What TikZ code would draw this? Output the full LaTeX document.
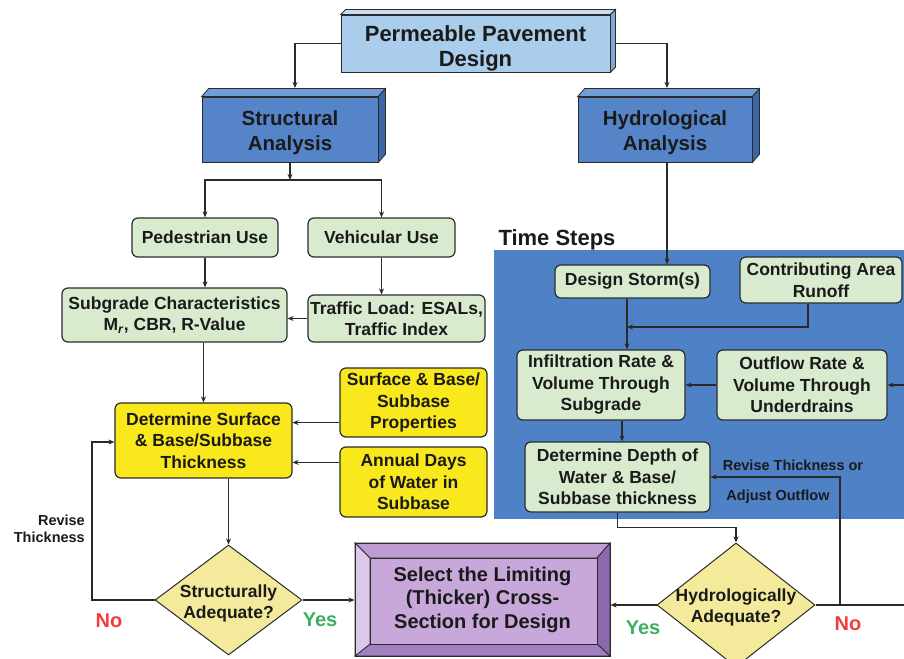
\documentclass[tikz,border=0pt]{standalone}
\usepackage{fontspec}
\setmainfont{Liberation Sans}
\usetikzlibrary{shapes.geometric,arrows.meta,calc}
\definecolor{edge}{HTML}{2B2B2B}
\definecolor{txt}{HTML}{1A1A1A}
\definecolor{lc}{HTML}{2A2A2A}
\definecolor{tfill}{HTML}{A9CDEB}
\definecolor{ttop}{HTML}{C6DEF3}
\definecolor{tside}{HTML}{7FA9D2}
\definecolor{bfill}{HTML}{5585C8}
\definecolor{btop}{HTML}{729CD6}
\definecolor{bside}{HTML}{3B66A8}
\definecolor{panel}{HTML}{4F81C6}
\definecolor{gfill}{HTML}{D8EBCF}
\definecolor{yfill}{HTML}{F9E81C}
\definecolor{dfill}{HTML}{F3EA9C}
\definecolor{pin}{HTML}{C8A7DA}
\definecolor{ptop}{HTML}{BE9CD3}
\definecolor{pright}{HTML}{8C68AE}
\definecolor{pbot}{HTML}{A27FC0}
\definecolor{pleft}{HTML}{DCC9E9}
\definecolor{nored}{HTML}{F03C3C}
\definecolor{yesgreen}{HTML}{3CB060}
\begin{document}
\begin{tikzpicture}[x=1pt,y=-1pt,
  box/.style={draw=edge, line width=1.2pt, rounded corners=6pt, align=center, inner sep=0pt, text=txt, font=\bfseries\fontsize{17.5}{21.5}\selectfont},
  gbox/.style={box, fill=gfill},
  ybox/.style={box, fill=yfill},
  bbox/.style={draw=edge, line width=0.8pt, fill=bfill, align=center, inner sep=0pt, text=txt, font=\bfseries\fontsize{20.5}{25}\selectfont},
  btext/.style={align=center, inner sep=0pt, text=txt, font=\bfseries\fontsize{20.5}{25}\selectfont},
  dia/.style={diamond, draw=edge, line width=1pt, fill=dfill, inner sep=0pt},
  diatext/.style={align=center, inner sep=0pt, text=txt, font=\bfseries\fontsize{17.5}{21}\selectfont},
  arr/.style={draw=lc, line width=1.4pt, -{Stealth[length=6pt,width=5pt]}},
  ln/.style={draw=lc, line width=1.4pt},
  lbl/.style={font=\bfseries\fontsize{14.5}{17}\selectfont, text=txt, inner sep=0pt},
  yeslbl/.style={font=\bfseries\fontsize{20}{24}\selectfont, text=yesgreen, inner sep=0pt},
  nolbl/.style={font=\bfseries\fontsize{20}{24}\selectfont, text=nored, inner sep=0pt},
  face/.style={draw=edge, line width=0.8pt}
]
\useasboundingbox (0,0) rectangle (904,658);
\fill[white] (0,0) rectangle (904,658);

% panel
\fill[panel] (494,250) rectangle (904,519);
\node[font=\bfseries\fontsize{22}{26}\selectfont, text=txt] (ts) at (557,240) {Time Steps};

% top title (3D)
\node[bbox, fill=tfill, minimum width=269pt, minimum height=57pt] (title) at (475.5,43.5) {};
\draw[face, fill=ttop] (title.north west) -- ++(5,-5) -- ($(title.north east)+(5,-5)$) -- (title.north east) -- cycle;
\draw[face, fill=tside] (title.north east) -- ++(5,-5) -- ($(title.south east)+(5,-5)$) -- (title.south east) -- cycle;
\node[btext, font=\bfseries\fontsize{22}{25}\selectfont] (titlet) at ($(title.center)+(0,5)$) {Permeable Pavement\\Design};

% analysis boxes (3D)
\node[bbox, minimum width=176pt, minimum height=65pt] (sa) at (290,129.5) {};
\draw[face, fill=btop] (sa.north west) -- ++(7,-8) -- ($(sa.north east)+(7,-8)$) -- (sa.north east) -- cycle;
\draw[face, fill=bside] (sa.north east) -- ++(7,-8) -- ($(sa.south east)+(7,-8)$) -- (sa.south east) -- cycle;
\node[btext] (sat) at ($(sa.center)+(0,3)$) {Structural\\Analysis};
\node[bbox, minimum width=174pt, minimum height=65pt] (ha) at (665,129.5) {};
\draw[face, fill=btop] (ha.north west) -- ++(7,-8) -- ($(ha.north east)+(7,-8)$) -- (ha.north east) -- cycle;
\draw[face, fill=bside] (ha.north east) -- ++(7,-8) -- ($(ha.south east)+(7,-8)$) -- (ha.south east) -- cycle;
\node[btext] (hat) at ($(ha.center)+(0,3)$) {Hydrological\\Analysis};

\coordinate (satop) at (295,88);
\coordinate (hatop) at (667,88);
\draw[arr] (title.west) -| (satop);
\draw[arr] ($(title.east)+(5,0)$) -| (hatop);

% structural side
\node[gbox, minimum width=146pt, minimum height=39pt] (ped) at (205,237.5) {Pedestrian Use};
\node[gbox, minimum width=147pt, minimum height=39pt] (veh) at (381.5,237.5) {Vehicular Use};
\node[gbox, minimum width=225pt, minimum height=54pt] (sub) at (174.5,315) {Subgrade Characteristics\\M\textsubscript{\textit{r}}, CBR, R-Value};
\node[gbox, minimum width=177pt, minimum height=47pt] (tr) at (396.5,318.5) {Traffic Load: ESALs,\\Traffic Index};
\node[ybox, minimum width=177pt, minimum height=75pt] (ds) at (203.5,440.5) {Determine Surface\\\& Base/Subbase\\Thickness};
\node[ybox, minimum width=147pt, minimum height=69pt] (sp) at (413.5,402.5) {Surface \& Base/\\Subbase\\Properties};
\node[ybox, minimum width=147pt, minimum height=70pt] (ad) at (413.5,482) {Annual Days\\of Water in\\Subbase};
\node[dia, minimum width=147pt, minimum height=110pt] (sd) at (228.5,600) {};
\node[diatext] (sdt) at ($(sd.center)+(0,3)$) {Structurally\\Adequate?};

\coordinate (j1) at (290,180);
\draw[arr] (sa.south) -- (j1);
\draw[arr] (j1) -| (ped.north);
\draw[arr] (j1) -| (veh.north);
\draw[arr] (ped.south) -- (ped.south |- sub.north);
\draw[arr] (veh.south) -- (veh.south |- tr.north);
\draw[arr] (tr.west) -- (sub.east |- tr.west);
\draw[arr] (ds.north |- sub.south) -- (ds.north);
\coordinate (spa) at ($(sp.south west)+(0,-15)$);
\coordinate (ada) at ($(ad.north west)+(0,16)$);
\draw[arr] (spa) -- (ds.east |- spa);
\draw[arr] (ada) -- (ds.east |- ada);
\draw[arr] (sd.north |- ds.south) -- (sd.north);

\coordinate (lp) at (92,442);
\draw[arr] (sd.west) -| (lp) -- (ds.west |- lp);
\node[lbl, align=right, anchor=east] (rt) at (85,529) {Revise\\Thickness};

% hydrological side
\node[gbox, minimum width=155pt, minimum height=33pt] (dst) at (632.5,281.5) {Design Storm(s)};
\node[gbox, minimum width=162pt, minimum height=46pt] (car) at (821,280) {Contributing Area\\Runoff};
\node[gbox, minimum width=168pt, minimum height=70pt] (inf) at (601,385) {Infiltration Rate \&\\Volume Through\\Subgrade};
\node[gbox, minimum width=170pt, minimum height=70pt] (out) at (802,385) {Outflow Rate \&\\Volume Through\\Underdrains};
\node[gbox, minimum width=185pt, minimum height=70pt] (dd) at (617.5,477) {Determine Depth of\\Water \& Base/\\Subbase thickness};
\node[dia, minimum width=158pt, minimum height=124pt] (hd) at (736,605) {};
\node[diatext] (hdt) at ($(hd.center)+(0,2)$) {Hydrologically\\Adequate?};

\draw[arr] (ha.south -| hatop) -- (hatop |- dst.north);
\coordinate (j2) at (627,327);
\draw[arr] (dst.south -| j2) -- (inf.north -| j2);
\coordinate (cara) at ($(car.south)+(-13,0)$);
\draw[arr] (cara) |- (j2);
\draw[arr] (out.west) -- (inf.east);
\coordinate (re) at (904,385);
\draw[arr] (re) -- (out.east);
\coordinate (j3) at (622,0);
\draw[arr] (inf.south -| j3) -- (dd.north -| j3);
\draw[arr] (dd.south) -- ++(0,15) -| (hd.north);
\coordinate (fb) at (840,605);
\coordinate (re2) at (904,605);
\draw[ln] (hd.east) -- (re2);
\draw[arr] (fb) |- (dd.east);
\node[lbl] (rv1) at (793,465) {Revise Thickness or};
\node[lbl] (rv2) at (778,497) {Adjust Outflow};

% select box (bevelled)
\draw[face, fill=ptop] (355,543) -- (610,543) -- (597,558) -- (370,558) -- cycle;
\draw[face, fill=pright] (610,543) -- (610,656) -- (597,644) -- (597,558) -- cycle;
\draw[face, fill=pbot] (610,656) -- (355,656) -- (370,644) -- (597,644) -- cycle;
\draw[face, fill=pleft] (355,656) -- (355,543) -- (370,558) -- (370,644) -- cycle;
\draw[face, fill=pin] (370,558) rectangle (597,644);
\node[draw=edge, line width=1pt, minimum width=255pt, minimum height=113pt, align=center, inner sep=0pt, text=txt, font=\bfseries\fontsize{20}{23.5}\selectfont] (sel) at (482.5,599.5) {Select the Limiting\\(Thicker) Cross-\\Section for Design};

\draw[arr] (sd.east) -- (sel.west |- sd.east);
\draw[arr] (hd.west) -- (sel.east |- hd.west);

\node[nolbl] (no1) at (109,621) {No};
\node[yeslbl] (yes1) at (320,620) {Yes};
\node[yeslbl] (yes2) at (643,628) {Yes};
\node[nolbl] (no2) at (848,624) {No};
\end{tikzpicture}
\end{document}
